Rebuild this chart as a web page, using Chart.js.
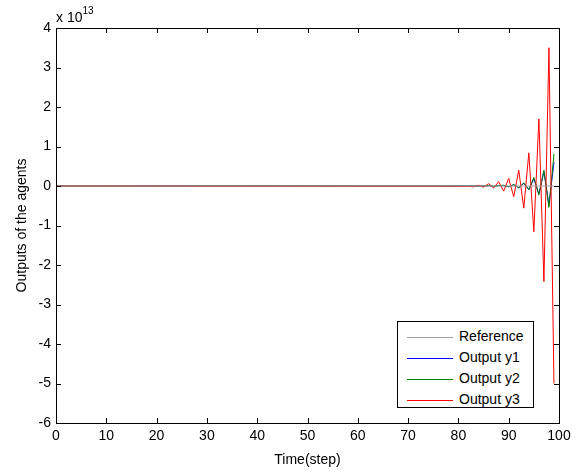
<!DOCTYPE html>
<html>
<head>
<meta charset="utf-8">
<script src="https://cdn.jsdelivr.net/npm/chart.js@4.4.1/dist/chart.umd.min.js"></script>
<style>
  body { margin: 0; background: #fff; font-family: "Liberation Sans", Arial, sans-serif; }
  #wrap { position: relative; width: 587px; height: 472px; }
  #exp { position: absolute; left: 56px; top: 7px; font-size: 14px; color: #000; }
  #exp sup { font-size: 10px; position: relative; top: -2px; }
  #legend { position: absolute; left: 397px; top: 321px; width: 137px; height: 87px;
            border: 1px solid #000; background: #fff; font-size: 14px; box-sizing: border-box; }
  .item { position: absolute; left: 9px; height: 16px; line-height: 16px; white-space: nowrap; }
  .item span.swatch { display: inline-block; width: 46px; height: 0; border-top: 1px solid; vertical-align: middle; margin-right: 6px; }
</style>
</head>
<body>
<div id="wrap">
  <canvas id="myChart"></canvas>
  <div id="exp">x 10<sup>13</sup></div>
  <div id="legend"></div>
</div>
<script>
// time steps (before step 80 every output sits on zero)
const steps = [0, 80, 81, 82, 83, 84, 85, 86, 87, 88, 89, 90, 91, 92, 93, 94, 95, 96, 97, 98, 99];

// values in units of 10^13
const reference = [0, 0, 0, 0, 0, 0, 0, 0, 0, 0, 0, 0, 0, 0, 0, 0, 0, 0, 0, 0, 0];
const outputY1 = [0, 0, 0, 0, 0, 0, 0, 0.01, -0.01, 0.01, 0.01, -0.02, 0.03, -0.04, 0.07, -0.09, 0.18, -0.20, 0.36, -0.47, 0.60];
const outputY2 = [0, 0, 0, 0, 0, 0, 0, 0.01, -0.01, 0.01, 0.02, -0.02, 0.04, -0.05, 0.08, -0.10, 0.22, -0.23, 0.40, -0.54, 0.81];
const outputY3 = [0, -0.01, -0.015, -0.01, -0.02, 0.02, -0.03, 0.06, -0.05, 0.11, -0.13, 0.19, -0.27, 0.40, -0.56, 0.84, -1.16, 1.70, -2.42, 3.50, -5.00];

const seriesNames = ['Reference', 'Output y1', 'Output y2', 'Output y3'];
const seriesColors = ['#a0a0a0', '#0000ff', '#008000', '#ff0000'];
const xTicks = [0, 10, 20, 30, 40, 50, 60, 70, 80, 90, 100];
const yTicks = [4, 3, 2, 1, 0, -1, -2, -3, -4, -5, -6];

const FONT = { family: '"Liberation Sans", Arial, sans-serif', size: 14 };

function toPoints(values) {
    return values.map((v, i) => ({ x: steps[i], y: v }));
}

const allValues = [reference, outputY1, outputY2, outputY3];
const drawOrder = [0, 3, 2, 1]; // red over green over blue, reference on top

// box around the plot with MATLAB style inward ticks
const boxTicks = {
    id: 'boxTicks',
    afterDatasetsDraw(chart) {
        const { ctx, chartArea: a, scales } = chart;
        ctx.save();
        ctx.strokeStyle = '#000';
        ctx.lineWidth = 1;
        ctx.strokeRect(Math.round(a.left) + 0.5, Math.round(a.top) + 0.5,
                       Math.round(a.right - a.left), Math.round(a.bottom - a.top));
        ctx.beginPath();
        xTicks.forEach(t => {
            const px = Math.round(scales.x.getPixelForValue(t)) + 0.5;
            ctx.moveTo(px, a.bottom); ctx.lineTo(px, a.bottom - 5);
            ctx.moveTo(px, a.top); ctx.lineTo(px, a.top + 5);
        });
        yTicks.forEach(t => {
            const py = Math.round(scales.y.getPixelForValue(t)) + 0.5;
            ctx.moveTo(a.left, py); ctx.lineTo(a.left + 5, py);
            ctx.moveTo(a.right, py); ctx.lineTo(a.right - 5, py);
        });
        ctx.stroke();
        ctx.restore();
    }
};

const ctx = document.getElementById('myChart');
new Chart(ctx, {
    type: 'line',
    data: {
        datasets: seriesNames.map((name, i) => ({
            label: name,
            data: toPoints(allValues[i]),
            borderColor: seriesColors[i],
            borderWidth: 1,
            pointRadius: 0,
            tension: 0,
            fill: false,
            order: drawOrder[i]
        }))
    },
    options: {
        responsive: true,
        maintainAspectRatio: false,
        animation: false,
        layout: { padding: { left: 0, top: 28, right: 28, bottom: 0 } },
        plugins: { legend: { display: false }, tooltip: { enabled: false } },
        scales: {
            x: {
                type: 'linear', min: 0, max: 100,
                afterFit(scale) { scale.height = 49; },
                afterBuildTicks(scale) { scale.ticks = xTicks.map(v => ({ value: v })); },
                grid: { display: false, drawTicks: false },
                border: { display: false },
                ticks: { color: '#000', font: FONT, padding: 5, maxRotation: 0 },
                title: { display: true, text: 'Time(step)', color: '#000', font: FONT, padding: { top: 0, bottom: 3 } }
            },
            y: {
                type: 'linear', min: -6, max: 4,
                afterFit(scale) { scale.width = 56; },
                afterBuildTicks(scale) { scale.ticks = yTicks.map(v => ({ value: v })); },
                grid: { display: false, drawTicks: false },
                border: { display: false },
                ticks: { color: '#000', font: FONT, padding: 5 },
                title: { display: true, text: 'Outputs of the agents', color: '#000', font: FONT, padding: { top: 14, bottom: 0 } }
            }
        }
    },
    plugins: [boxTicks]
});

// legend inside the axes, lower right
const legendDiv = document.getElementById('legend');
seriesNames.forEach((name, i) => {
    const item = document.createElement('div');
    item.className = 'item';
    item.style.top = (6 + i * 21) + 'px';
    item.innerHTML = `<span class="swatch" style="border-color:${seriesColors[i]}"></span>${name}`;
    legendDiv.appendChild(item);
});
</script>
</body>
</html>
